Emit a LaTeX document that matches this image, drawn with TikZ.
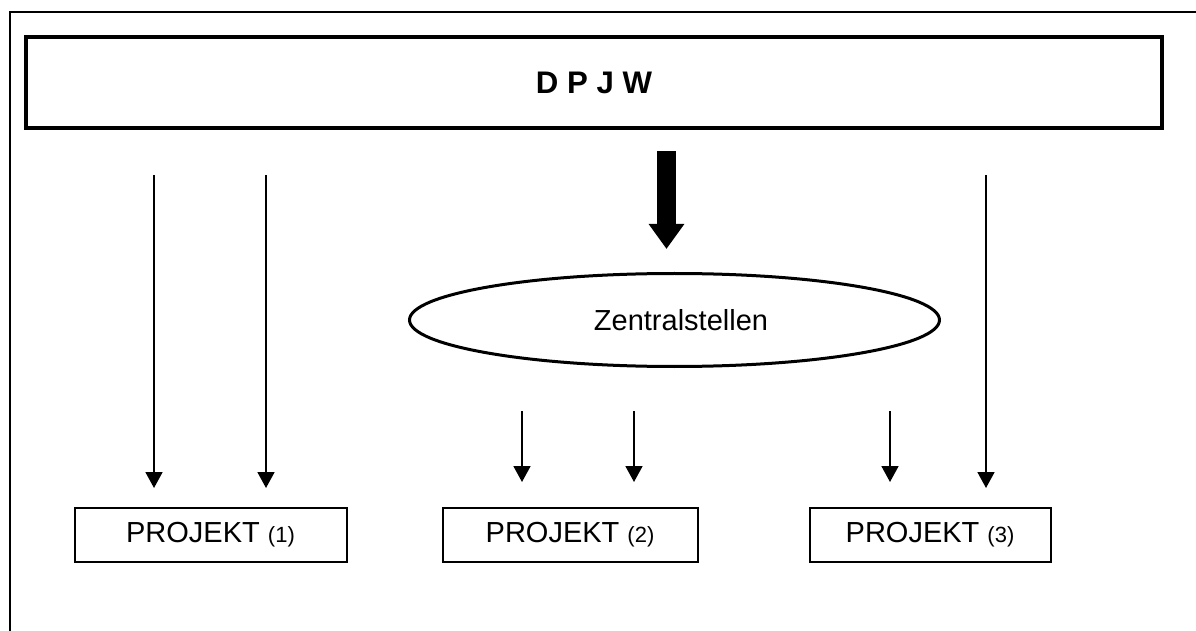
\documentclass[tikz,border=0pt]{standalone}
\usepackage{fontspec}
\setmainfont{Liberation Sans}
\usetikzlibrary{positioning}
\usetikzlibrary{shapes}
\usetikzlibrary{arrows.meta}

\begin{document}
\begin{tikzpicture}[x=0.5pt, y=-0.5pt]

\useasboundingbox (0, 0) rectangle (1196, 631);

\def\BoxHeight{27pt}
\def\TextSize{\fontsize{14.5pt}{17pt}\selectfont}
\def\NumSize{\fontsize{11pt}{13pt}\selectfont}

% Styles
\tikzstyle{module} =
	[draw, line width=1pt, minimum height=\BoxHeight, inner sep=0pt, font=\TextSize]

\tikzstyle{head} =
	[draw, line width=2pt, minimum width=568pt, minimum height=45.5pt,
	 font=\fontsize{15.6pt}{18pt}\selectfont\bfseries]

\tikzstyle{central} =
	[draw, ellipse, line width=1.5pt, minimum width=265pt, minimum height=46.5pt,
	 inner sep=0pt, font=\TextSize]

% Frame
\draw[line width=1pt] (10, 631) -- (10, 12) -- (1196, 12);

% Modules

\node (DPJW) at (594, 83) [head] {D P J W};

\node (Zentral) at (674.5, 320) [central] {\hspace{6.5pt}Zentralstellen};

\node (ProjektA) at (210.5, 535) [module, minimum width=136pt]
	{PROJEKT {\NumSize (1)}};
\node (ProjektB) at (570, 535) [module, minimum width=127.5pt]
	{PROJEKT {\NumSize (2)}};
\node (ProjektC) at (930, 535) [module, minimum width=120.5pt]
	{PROJEKT {\NumSize (3)}};

% Edges

\tikzstyle{thin arrow} =
	[line width=0.9pt, -{Triangle[width=8.5pt, length=8pt]}]

\tikzstyle{thick arrow} =
	[line width=9.5pt, -{Triangle[width=17pt, length=12.5pt]}]

\coordinate (LineA1) at (154, 0);
\coordinate (LineA2) at (266, 0);
\coordinate (LineB1) at (522, 0);
\coordinate (LineB2) at (634, 0);
\coordinate (LineC1) at (890, 0);
\coordinate (LineC2) at (986, 0);
\coordinate (LineZ) at (666.5, 0);

\draw[thick arrow, shorten <=10.5pt, shorten >=11.5pt]
	(LineZ |- DPJW.south) -- (LineZ |- Zentral.north);

\path[thin arrow, shorten <=22.5pt, shorten >=9.5pt]
	(LineA1 |- DPJW.south) edge (LineA1 |- ProjektA.north)
	(LineA2 |- DPJW.south) edge (LineA2 |- ProjektA.north)
	(LineC2 |- DPJW.south) edge (LineC2 |- ProjektC.north);

\path[thin arrow, shorten <=21.5pt, shorten >=12.5pt]
	(LineB1 |- Zentral.south) edge (LineB1 |- ProjektB.north)
	(LineB2 |- Zentral.south) edge (LineB2 |- ProjektB.north)
	(LineC1 |- Zentral.south) edge (LineC1 |- ProjektC.north);

\end{tikzpicture}
\end{document}
